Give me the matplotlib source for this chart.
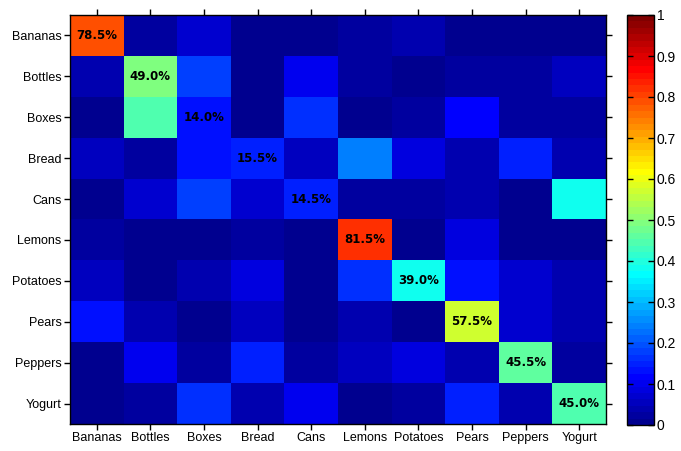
import numpy as np
import matplotlib
matplotlib.use("Agg")
import matplotlib.pyplot as plt
from matplotlib.colors import ListedColormap

labels = ["Bananas", "Bottles", "Boxes", "Bread", "Cans", "Lemons",
          "Potatoes", "Pears", "Peppers", "Yogurt"]

# rows = true class, columns = predicted class (percent)
row_bananas  = [78.5, 3.0, 7.0, 1.0, 1.0, 2.5, 3.5, 1.0, 1.0, 1.0]
row_bottles  = [4.5, 49.0, 18.0, 1.0, 9.5, 3.0, 1.0, 3.0, 3.0, 5.0]
row_boxes    = [0.5, 44.0, 14.0, 1.5, 16.0, 1.0, 2.5, 11.5, 2.5, 3.0]
row_bread    = [6.0, 3.0, 12.5, 15.5, 5.5, 23.5, 9.0, 4.0, 15.0, 4.0]
row_cans     = [1.0, 7.0, 18.0, 7.0, 14.5, 2.5, 2.5, 3.5, 1.0, 38.0]
row_lemons   = [2.5, 1.0, 1.0, 2.0, 1.0, 81.5, 1.0, 8.5, 1.0, 1.0]
row_potatoes = [5.0, 1.5, 4.5, 8.0, 1.0, 16.0, 39.0, 14.0, 6.5, 4.0]
row_pears    = [13.5, 4.0, 1.0, 6.0, 1.5, 4.5, 1.0, 57.5, 7.5, 3.5]
row_peppers  = [1.0, 10.0, 3.0, 15.0, 3.0, 5.0, 9.0, 3.5, 45.5, 3.0]
row_yogurt   = [1.0, 2.5, 16.0, 3.5, 9.5, 1.0, 2.0, 15.0, 4.5, 45.0]

cbar_ticks = [0, 0.1, 0.2, 0.3, 0.4, 0.5, 0.6, 0.7, 0.8, 0.9, 1]
cbar_ticklabels = ["0", "0.1", "0.2", "0.3", "0.4", "0.5", "0.6", "0.7", "0.8", "0.9", "1"]

M = np.array([row_bananas, row_bottles, row_boxes, row_bread, row_cans,
              row_lemons, row_potatoes, row_pears, row_peppers, row_yogurt]) / 100.0


def matlab_jet(n=64):
    m = int(np.ceil(n / 4))
    u = np.concatenate([np.arange(1, m + 1) / m, np.ones(m - 1), np.arange(m, 0, -1) / m])
    g = int(np.ceil(m / 2)) - (1 if n % 4 == 1 else 0) + np.arange(1, len(u) + 1)
    r = g + m
    b = g - m
    g = g[g <= n]
    r = r[r <= n]
    b = b[b >= 1]
    J = np.zeros((n, 3))
    J[r - 1, 0] = u[:len(r)]
    J[g - 1, 1] = u[:len(g)]
    J[b - 1, 2] = u[len(u) - len(b):]
    return ListedColormap(J)


cmap = matlab_jet(64)

plt.rcParams['font.family'] = ['Liberation Sans', 'DejaVu Sans']
fig = plt.figure(figsize=(6.81, 4.51), dpi=100)
W, H = 681, 451
ax = fig.add_axes([70 / W, 1 - 424 / H, (606 - 70) / W, (424 - 15) / H])
cax = fig.add_axes([627 / W, 1 - 425 / H, (654 - 627) / W, (425 - 15) / H])

im = ax.imshow(M, cmap=cmap, vmin=0, vmax=1, aspect='auto', interpolation='nearest')
n = len(labels)
ax.set_xticks(range(n))
ax.set_yticks(range(n))
ax.set_xticklabels(labels, fontsize=9)
ax.set_yticklabels(labels, fontsize=9)
ax.tick_params(direction='out', length=4, width=1, top=True, right=True,
               labeltop=False, labelright=False, pad=2)
for s in ax.spines.values():
    s.set_linewidth(1)

for i in range(n):
    ax.text(i, i, f"{M[i, i] * 100:.1f}%", ha='center', va='center',
            fontsize=8.5, fontweight='bold', color='black',
            family=['DejaVu Sans'])

cb = fig.colorbar(im, cax=cax, ticks=cbar_ticks)
cb.minorticks_off()
cb.ax.set_yticklabels(cbar_ticklabels, fontsize=10)
cb.ax.tick_params(direction='in', length=4, width=1, left=True, right=True, pad=2)
cb.outline.set_linewidth(1)

fig.savefig("out.png", dpi=100)
